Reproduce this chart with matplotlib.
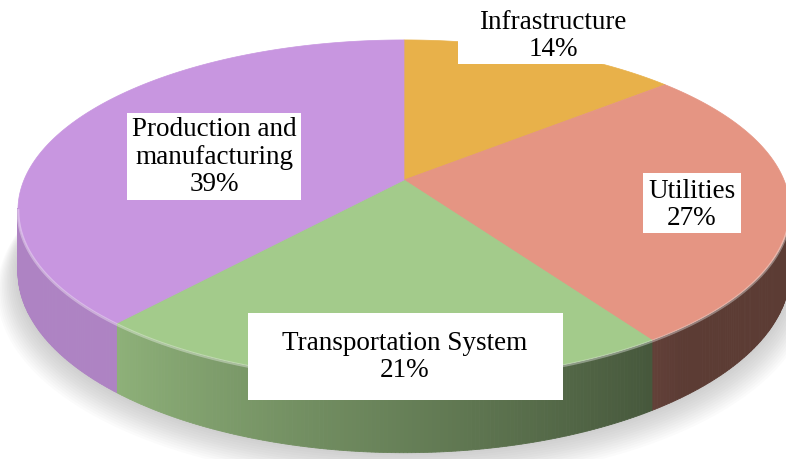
import numpy as np
import matplotlib.pyplot as plt
from matplotlib.patches import Polygon, Rectangle
from matplotlib.colors import to_rgb

labels = ['Infrastructure', 'Utilities', 'Transportation System', 'Production and\nmanufacturing']
percents = [14, 27, 21, 39]
colors = ['#e8b14a', '#e59583', '#a3cb8b', '#c896e0']

# pixel layout of the 3d pie (perspective disc)
cx, cy = 404, 180
a, b, k = 380, 164.7, 0.176
depth = 60

# label boxes (x0, y0, x1, y1) and text centres, in pixels
label_boxes = [(458, -10, 625, 64), (643, 173, 741, 233), (248, 313, 563, 400), (127, 113, 301, 200)]
label_pos = [(553, 36), (692, 205), (405, 357), (214, 157)]


def project(r, phi):
    u = r * np.sin(phi)
    v = r * np.cos(phi)
    w = 1 + k * v
    return cx + a * u / w, cy - b * v / w, w


def shade(phi_deg):
    s = 0.43 + (phi_deg - 146) * 0.44 / 75
    return np.clip(s, 0.40, 0.87)


fig = plt.figure(figsize=(7.86, 4.59), dpi=100)
ax = fig.add_axes([0, 0, 1, 1])
ax.set_xlim(0, 786)
ax.set_ylim(459, 0)
ax.axis('off')

# soft shadow under the pie
full = np.radians(np.linspace(0, 360, 361))
for i in range(14):
    x, y, w = project(1.0 + i * 0.004, full)
    ax.add_patch(Polygon(np.column_stack([x, y + depth / w + i * 1.3]),
                         closed=True, fc='gray', ec='none', alpha=0.03, zorder=1))

fracs = np.array(percents) / sum(percents)
bounds = np.concatenate([[0], np.cumsum(fracs)]) * 360

# side walls
for i in range(len(percents)):
    lo = max(bounds[i], 99.5)
    hi = min(bounds[i + 1], 260.5)
    if hi <= lo:
        continue
    base = np.array(to_rgb(colors[i]))
    steps = np.linspace(lo, hi, int((hi - lo) * 2) + 2)
    for p0, p1 in zip(steps[:-1], steps[1:]):
        x0, y0, w0 = project(1.0, np.radians(p0))
        x1, y1, w1 = project(1.0, np.radians(p1))
        quad = [(x0, y0), (x1, y1), (x1, y1 + depth / w1), (x0, y0 + depth / w0)]
        c = base * shade((p0 + p1) / 2)
        ax.add_patch(Polygon(quad, closed=True, fc=c, ec=c, lw=0.6, zorder=2))

# top faces
for i in range(len(percents)):
    phis = np.radians(np.linspace(bounds[i], bounds[i + 1], 200))
    x, y, _ = project(1.0, phis)
    pts = np.vstack([[cx, cy], np.column_stack([x, y])])
    ax.add_patch(Polygon(pts, closed=True, fc=colors[i], ec=colors[i], lw=0.5, zorder=3))

# light rim on the front edge
rim = np.radians(np.linspace(100, 260, 300))
x, y, _ = project(1.0, rim)
ax.plot(x, y + 1, color='white', alpha=0.35, lw=2, zorder=4)

# labels
for i in range(len(percents)):
    x0, y0, x1, y1 = label_boxes[i]
    ax.add_patch(Rectangle((x0, y0), x1 - x0, y1 - y0, fc='white', ec='none', zorder=5))
    ax.text(label_pos[i][0], label_pos[i][1], f'{labels[i]}\n{percents[i]}%',
            ha='center', va='center', fontsize=19.5, family='Liberation Serif',
            linespacing=1.15, zorder=6)

plt.savefig('out.png', dpi=100)
